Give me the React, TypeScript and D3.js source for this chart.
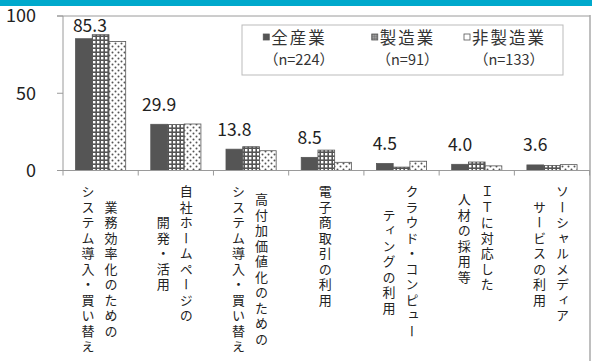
import React from "react";
import * as d3 from "d3";

const categories = [
  ["業務効率化のための", "システム導入・買い替え"],
  ["自社ホームページの", "開発・活用"],
  ["高付加価値化のための", "システム導入・買い替え"],
  ["電子商取引の利用"],
  ["クラウド・コンピュー", "ティングの利用"],
  ["ＩＴに対応した", "人材の採用等"],
  ["ソーシャルメディア", "サービスの利用"],
];
const seriesNames = ["全産業", "製造業", "非製造業"];
const seriesN = ["（n=224）", "（n=91）", "（n=133）"];
const allIndustry = [85.3, 29.9, 13.8, 8.5, 4.5, 4.0, 3.6];
const manufacturing = [87.9, 29.7, 15.4, 13.2, 2.2, 5.5, 3.3];
const nonManufacturing = [83.5, 30.1, 12.8, 5.3, 6.0, 3.0, 3.8];
const yTicks = [0, 50, 100];

const W = 592;
const H = 361;
const FONT = "'Noto Sans CJK JP', 'Noto Sans', sans-serif";

export default function App() {
  const x = d3
    .scaleBand<number>()
    .domain(d3.range(categories.length))
    .range([63, 589.6])
    .padding(0);
  const bw = x.bandwidth();
  const xs = d3
    .scaleBand<number>()
    .domain([0, 1, 2])
    .range([bw / 6, (bw * 5) / 6])
    .padding(0);
  const y = d3.scaleLinear().domain([0, 100]).range([170.5, 16]);
  const series = [allIndustry, manufacturing, nonManufacturing];
  const fills = ["#555555", "url(#gridPat)", "url(#dotPat)"];

  const legendCenters = [299, 407.5, 509];

  return (
    <svg
      width={W}
      height={H}
      style={{ position: "absolute", left: 0, top: 0, background: "#fff" }}
      fontFamily={FONT}
    >
      <defs>
        <pattern id="gridPat" width={4} height={4} patternUnits="userSpaceOnUse">
          <rect width={4} height={4} fill="#555" />
          <rect x={1} y={1} width={2.4} height={2.4} fill="#fff" />
        </pattern>
        <pattern id="dotPat" width={6} height={6} patternUnits="userSpaceOnUse">
          <rect width={6} height={6} fill="#fff" />
          <circle cx={1.5} cy={1.5} r={1} fill="#555" />
          <circle cx={4.5} cy={4.5} r={1} fill="#555" />
        </pattern>
        <pattern id="gridPatS" width={2} height={2} patternUnits="userSpaceOnUse">
          <rect width={2} height={2} fill="#666" />
          <rect x={0.6} y={0.6} width={1} height={1} fill="#fff" />
        </pattern>
      </defs>
      <rect width={W} height={H} fill="#fff" />
      {/* top banner */}
      <rect x={0} y={0} width={W} height={6} fill="#00a9cc" />

      {/* gridline at 100 and axes */}
      <line x1={57} x2={590} y1={y(100)} y2={y(100)} stroke="#9a9a9a" strokeWidth={1} />
      <line x1={590} x2={590} y1={y(100) - 1} y2={H} stroke="#aaa" strokeWidth={1.5} />
      <line x1={63} x2={63} y1={y(100)} y2={y(0)} stroke="#9a9a9a" strokeWidth={1} />
      {yTicks.map((t) => (
        <g key={t}>
          <line x1={57} x2={63} y1={y(t)} y2={y(t)} stroke="#9a9a9a" />
          <text
            x={36}
            y={y(t)}
            dy="0.36em"
            textAnchor="end"
            fontSize={18}
            fill="#222"
          >
            {t}
          </text>
        </g>
      ))}

      {/* bars */}
      {series.map((vals, si) =>
        vals.map((v, ci) => (
          <rect
            key={`${si}-${ci}`}
            x={(x(ci) as number) + (xs(si) as number)}
            y={y(v)}
            width={xs.bandwidth()}
            height={y(0) - y(v)}
            fill={fills[si]}
            stroke="#555"
            strokeWidth={0.8}
          />
        ))
      )}

      {/* baseline and x ticks */}
      <line x1={57} x2={590} y1={y(0)} y2={y(0)} stroke="#9a9a9a" strokeWidth={1} />
      {d3.range(categories.length + 1).map((i) => (
        <line
          key={i}
          x1={63 + i * bw}
          x2={63 + i * bw}
          y1={y(0)}
          y2={y(0) + 5}
          stroke="#9a9a9a"
        />
      ))}

      {/* data labels (全産業) */}
      {allIndustry.map((v, ci) => {
        const cx = (x(ci) as number) + (xs(0) as number) + xs.bandwidth() / 2;
        const natural = y(v) - 13.5;
        const clamped = natural < 32;
        return (
          <text
            key={ci}
            x={cx + (clamped ? 6 : 0)}
            y={clamped ? 32 : natural}
            textAnchor="middle"
            fontSize={17.5}
            fill="#222"
          >
            {v.toFixed(1)}
          </text>
        );
      })}

      {/* category labels (vertical) */}
      {categories.map((lines, ci) => {
        const center = (x(ci) as number) + bw / 2 - 1;
        const longest = d3.max(lines, (l) => l.length) as number;
        const pitch = 15.5;
        const midY = 185 + (longest * pitch) / 2;
        const gap = 23;
        return lines.map((line, li) => {
          const offset = ((lines.length - 1) / 2 - li) * gap;
          return (
            <text
              key={`${ci}-${li}`}
              x={center + offset}
              y={midY}
              textAnchor="middle"
              fontSize={13}
              letterSpacing={2.5}
              fill="#222"
              style={{ writingMode: "vertical-rl" }}
            >
              {line}
            </text>
          );
        });
      })}

      {/* legend */}
      <rect x={242} y={25} width={321} height={50} fill="#fff" stroke="#bbb" strokeWidth={1} />
      {seriesNames.map((name, i) => {
        const c = legendCenters[i];
        const tw = name.length * 18.5;
        const iconX = c - tw / 2 - 8;
        return (
          <g key={name}>
            <rect
              x={iconX}
              y={34}
              width={6}
              height={6}
              fill={i === 0 ? "#555" : i === 1 ? "url(#gridPatS)" : "#fff"}
              stroke="#555"
              strokeWidth={0.8}
            />
            <text x={c} y={44} textAnchor="middle" fontSize={16.5} letterSpacing={2} fill="#333">
              {name}
            </text>
            <text x={c} y={65} textAnchor="middle" fontSize={14.5} fill="#333">
              {seriesN[i]}
            </text>
          </g>
        );
      })}
    </svg>
  );
}
